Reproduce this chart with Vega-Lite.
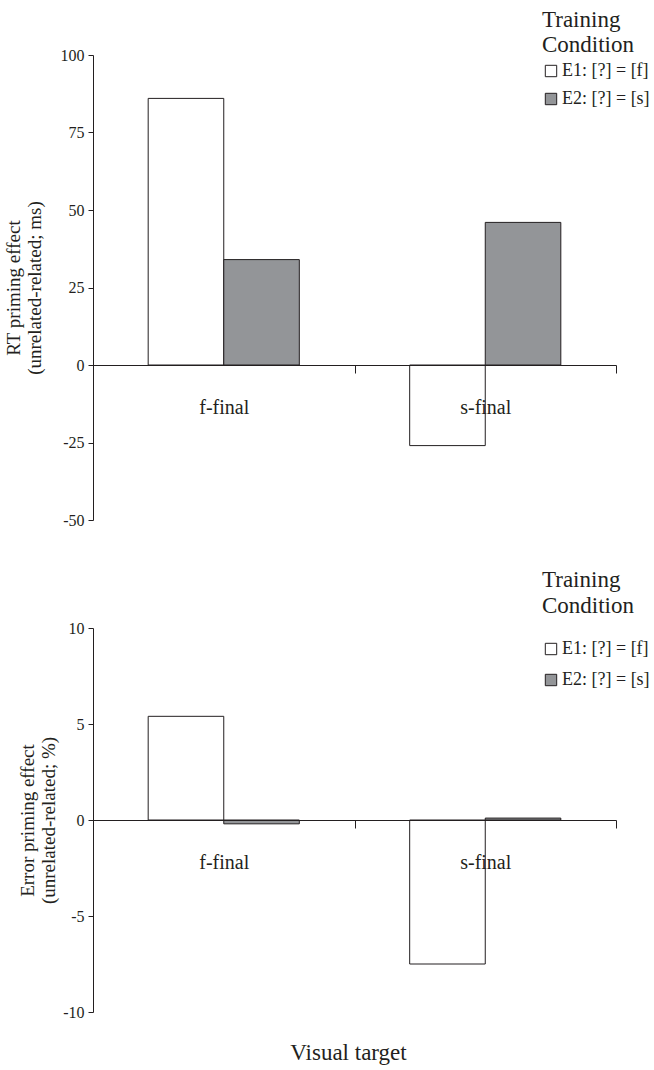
{
  "$schema": "https://vega.github.io/schema/vega-lite/v6.json",
  "padding": {"left": 4, "top": 9, "right": 0, "bottom": 0},
  "background": "white",
  "config": {
    "font": "Liberation Serif",
    "view": {"stroke": null},
    "concat": {"spacing": 41},
    "axis": {"grid": false, "domainColor": "#231f20", "tickColor": "#231f20", "labelColor": "#231f20", "titleColor": "#231f20", "labelFont": "Liberation Serif", "titleFont": "Liberation Serif", "titleFontWeight": "normal"},
    "legend": {"labelFont": "Liberation Serif", "titleFont": "Liberation Serif", "titleFontWeight": "normal", "labelColor": "#231f20", "titleColor": "#231f20"},
    "title": {"font": "Liberation Serif", "fontWeight": "normal", "color": "#231f20"}
  },
  "datasets": {
    "rt": [
      {"target": "f-final", "condition": "E1: [?] = [f]", "value": 86},
      {"target": "f-final", "condition": "E2: [?] = [s]", "value": 34},
      {"target": "s-final", "condition": "E1: [?] = [f]", "value": -26},
      {"target": "s-final", "condition": "E2: [?] = [s]", "value": 46}
    ],
    "err": [
      {"target": "f-final", "condition": "E1: [?] = [f]", "value": 5.4},
      {"target": "f-final", "condition": "E2: [?] = [s]", "value": -0.2},
      {"target": "s-final", "condition": "E1: [?] = [f]", "value": -7.5},
      {"target": "s-final", "condition": "E2: [?] = [s]", "value": 0.1}
    ]
  },
  "vconcat": [
    {
      "width": 523,
      "height": 465,
      "data": {"name": "rt"},
      "mark": {"type": "bar", "stroke": "#231f20", "strokeWidth": 1},
      "encoding": {
        "x": {
          "field": "target", "type": "nominal", "sort": ["f-final", "s-final"],
          "scale": {"paddingInner": 0, "paddingOuter": 0},
          "axis": {"title": null, "offset": -155, "zindex": 1, "labelAngle": 0, "tickBand": "extent", "tickSize": 8, "labelFontSize": 20, "labelPadding": 24, "domainWidth": 1}
        },
        "xOffset": {"field": "condition", "type": "nominal", "scale": {"paddingInner": 0, "paddingOuter": 0.73}},
        "y": {
          "field": "value", "type": "quantitative",
          "scale": {"domain": [-50, 100], "nice": false, "zero": false},
          "axis": {"values": [-50, -25, 0, 25, 50, 75, 100], "labelExpr": "replace(datum.label, '\u2212', '-')", "tickSize": 5, "labelFontSize": 16, "labelPadding": 4, "title": ["RT priming effect", "(unrelated-related; ms)"], "titleFontSize": 19, "titlePadding": 16}
        },
        "fill": {
          "field": "condition", "type": "nominal",
          "scale": {"domain": ["E1: [?] = [f]", "E2: [?] = [s]"], "range": ["#ffffff", "#939598"]},
          "legend": {"orient": "none", "legendX": 449, "legendY": -46, "title": ["Training", "Condition"], "titleFontSize": 23, "titleLineHeight": 25, "titlePadding": 5, "labelFontSize": 18, "symbolType": "square", "symbolSize": 130, "symbolStrokeColor": "#231f20", "symbolStrokeWidth": 1, "rowPadding": 10, "labelOffset": 2}
        }
      }
    },
    {
      "width": 523,
      "height": 384,
      "data": {"name": "err"},
      "title": {"text": "Visual target", "orient": "bottom", "anchor": "middle", "frame": "group", "fontSize": 23, "offset": 22, "dx": -6},
      "mark": {"type": "bar", "stroke": "#231f20", "strokeWidth": 1},
      "encoding": {
        "x": {
          "field": "target", "type": "nominal", "sort": ["f-final", "s-final"],
          "scale": {"paddingInner": 0, "paddingOuter": 0},
          "axis": {"title": null, "offset": -192, "zindex": 1, "labelAngle": 0, "tickBand": "extent", "tickSize": 8, "labelFontSize": 20, "labelPadding": 24, "domainWidth": 1}
        },
        "xOffset": {"field": "condition", "type": "nominal", "scale": {"paddingInner": 0, "paddingOuter": 0.73}},
        "y": {
          "field": "value", "type": "quantitative",
          "scale": {"domain": [-10, 10], "nice": false, "zero": false},
          "axis": {"values": [-10, -5, 0, 5, 10], "labelExpr": "replace(datum.label, '\u2212', '-')", "tickSize": 5, "labelFontSize": 16, "labelPadding": 4, "title": ["Error priming effect", "(unrelated-related; %)"], "titleFontSize": 19, "titlePadding": 4}
        },
        "fill": {
          "field": "condition", "type": "nominal",
          "scale": {"domain": ["E1: [?] = [f]", "E2: [?] = [s]"], "range": ["#ffffff", "#939598"]},
          "legend": {"orient": "none", "legendX": 449, "legendY": -59, "title": ["Training", "Condition"], "titleFontSize": 23, "titleLineHeight": 26, "titlePadding": 22, "labelFontSize": 18, "symbolType": "square", "symbolSize": 130, "symbolStrokeColor": "#231f20", "symbolStrokeWidth": 1, "rowPadding": 13, "labelOffset": 2}
        }
      }
    }
  ],
  "resolve": {"scale": {"fill": "independent"}, "legend": {"fill": "independent"}}
}
